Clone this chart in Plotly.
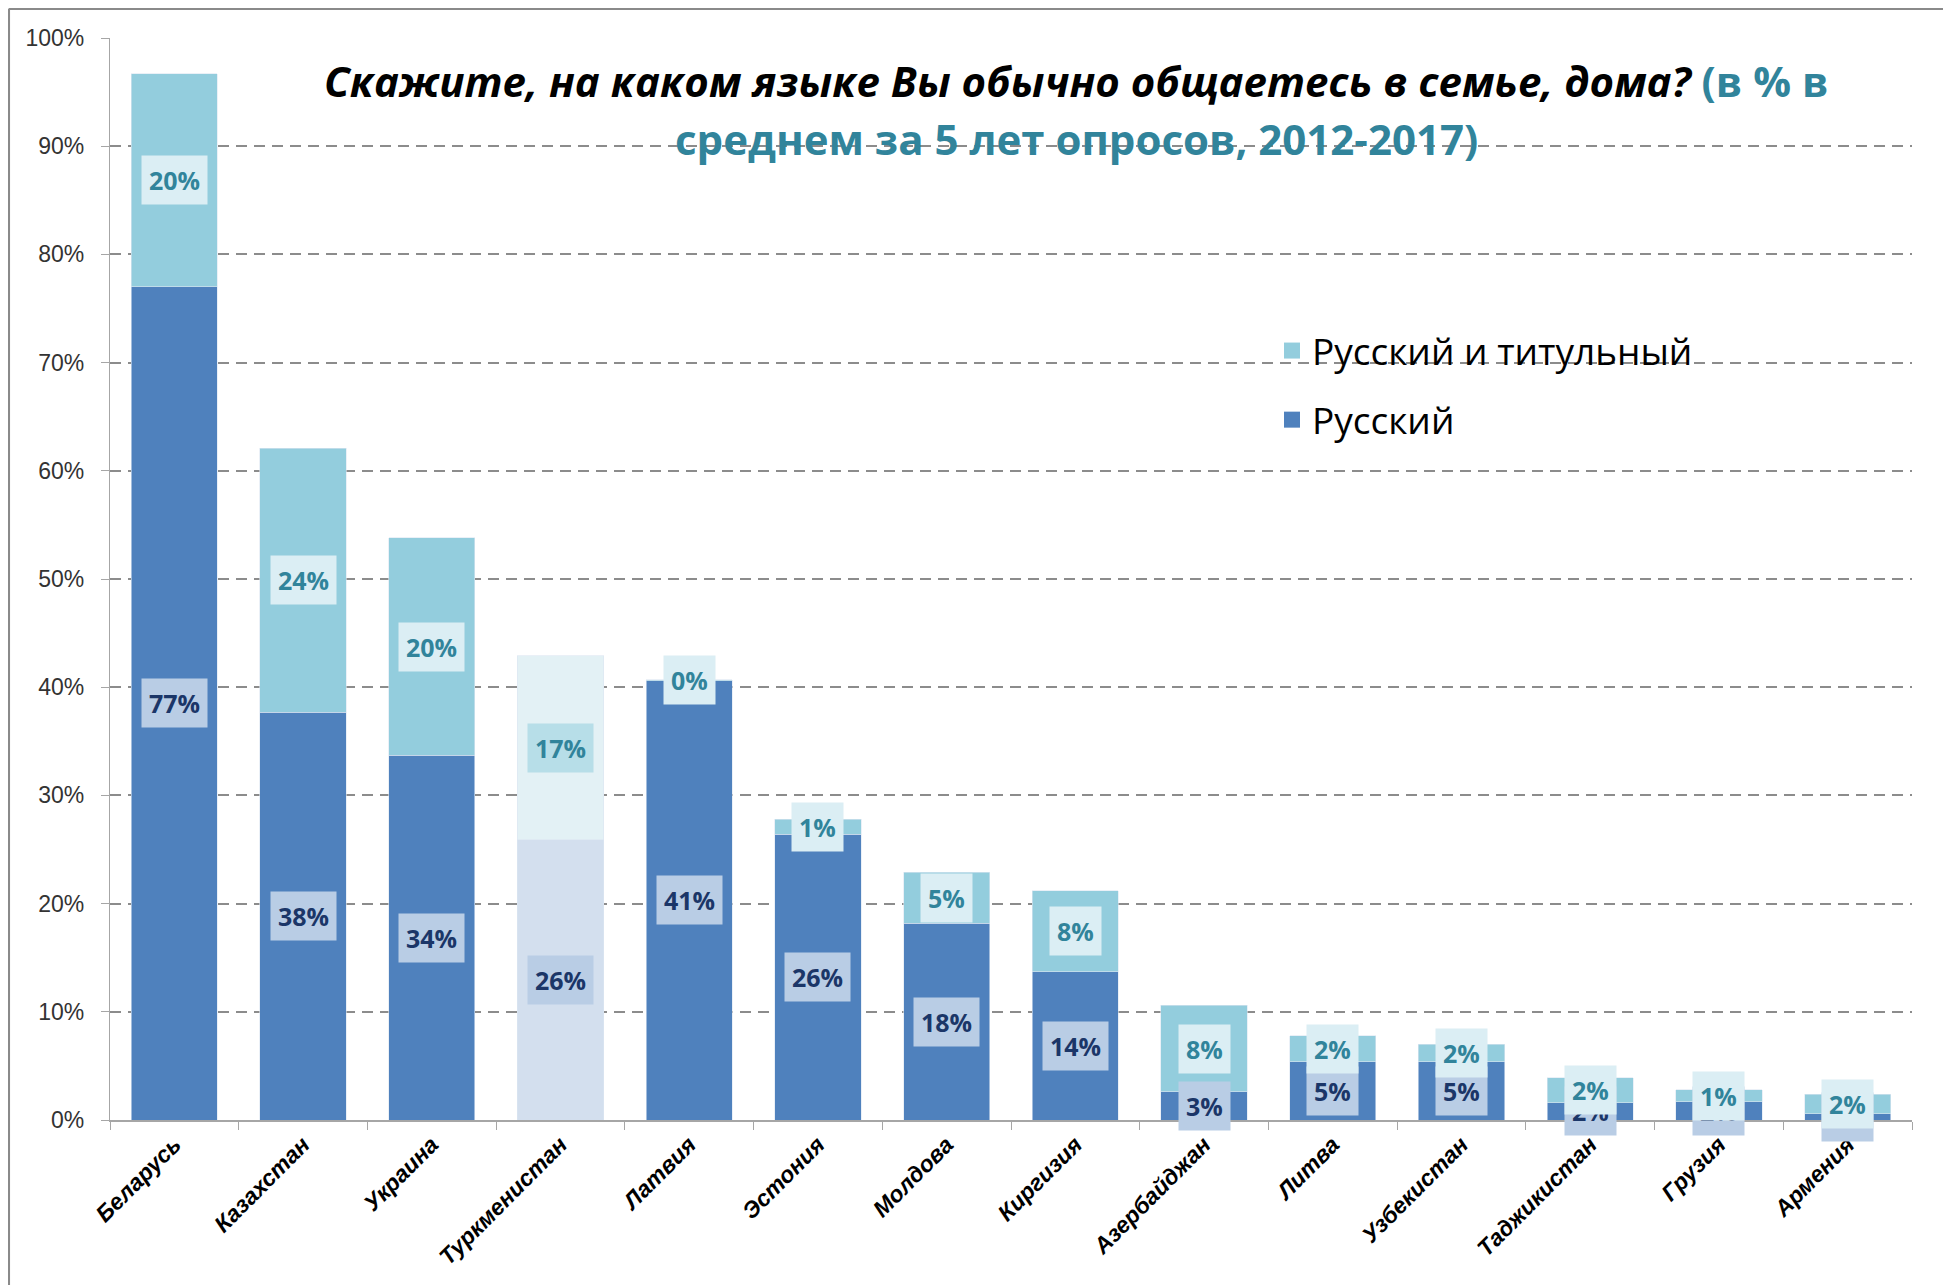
import plotly.graph_objects as go

countries = ["Беларусь", "Казахстан", "Украина", "Туркменистан", "Латвия", "Эстония",
             "Молдова", "Киргизия", "Азербайджан", "Литва", "Узбекистан", "Таджикистан",
             "Грузия", "Армения"]
russian = [77.0, 37.7, 33.7, 25.9, 40.6, 26.4, 18.2, 13.7, 2.6, 5.4, 5.4, 1.6, 1.7, 0.6]
titular = [19.7, 24.4, 20.1, 17.0, 0.1, 1.4, 4.7, 7.5, 8.0, 2.4, 1.6, 2.3, 1.1, 1.8]
series_names = ["Русский", "Русский и титульный"]
y_ticks = [0, 10, 20, 30, 40, 50, 60, 70, 80, 90, 100]
faded = "Туркменистан"

C_RUS = "#4F81BD"
C_TIT = "#93CDDD"
C_RUS_F = "#D3DFEE"
C_TIT_F = "#E3F1F5"

rus_colors = [C_RUS_F if c == faded else C_RUS for c in countries]
tit_colors = [C_TIT_F if c == faded else C_TIT for c in countries]

OFF = 8  # page offset of the figure div
W, H = 1951 - OFF, 1285 - OFF
L, R, T, B = 110 - OFF, 39, 38 - OFF, 165
pw, ph = W - L - R, H - T - B

fig = go.Figure()
fig.add_trace(go.Bar(x=countries, y=russian, name=series_names[0], showlegend=False,
                     marker=dict(color=rus_colors, line=dict(width=0.6, color="#DCE6F2"))))
fig.add_trace(go.Bar(x=countries, y=titular, name=series_names[1], showlegend=False,
                     marker=dict(color=tit_colors, line=dict(width=0.6, color="#DCE6F2"))))
# legend entries (square swatches)
fig.add_trace(go.Scatter(x=[None], y=[None], mode="markers", name=series_names[1],
                         legendgroup="b", legendrank=1,
                         marker=dict(symbol="square", size=20, color=C_TIT)))
fig.add_trace(go.Scatter(x=[None], y=[None], mode="markers", name=series_names[0],
                         legendgroup="a", legendrank=2,
                         marker=dict(symbol="square", size=20, color=C_RUS)))

def pct(v):
    return f"{int(v + 0.5)}%"

ann = []
for c, r in zip(countries, russian):
    ann.append(dict(x=c, y=r / 2, xref="x", yref="y", text=f"<b>{pct(r)}</b>", showarrow=False,
                    font=dict(family="Open Sans", size=25, color="#1B3668"),
                    bgcolor="#B9CDE5", borderpad=7))
for c, r, t in zip(countries, russian, titular):
    ann.append(dict(x=c, y=r + t / 2, xref="x", yref="y", text=f"<b>{pct(t)}</b>", showarrow=False,
                    font=dict(family="Open Sans", size=25, color="#31849B"),
                    bgcolor="#B7DEE8" if c == faded else "#DBEEF4", borderpad=7))

# convert page pixel positions into paper fractions
def px_x(x):
    return (x - OFF - L) / pw

def px_y(y):
    return (OFF + H - B - y) / ph

ann.append(dict(x=px_x(1076), y=px_y(80), xref="paper", yref="paper", showarrow=False,
                xanchor="center", yanchor="middle",
                text="<b><i>Скажите, на каком языке Вы обычно общаетесь в семье, дома?</i></b> "
                     "<b><span style='color:#31849B'>(в % в</span></b>",
                font=dict(family="Open Sans", size=42, color="black")))
ann.append(dict(x=px_x(1076), y=px_y(139), xref="paper", yref="paper", showarrow=False,
                xanchor="center", yanchor="middle",
                text="<b>среднем за 5 лет опросов, 2012-2017)</b>",
                font=dict(family="Open Sans", size=42, color="#31849B")))

shapes = [
    dict(type="line", xref="paper", yref="paper", x0=px_x(8.8), x1=px_x(8.8), y0=px_y(8.8), y1=px_y(1300),
         line=dict(color="#8A8A8A", width=2.5)),
    dict(type="line", xref="paper", yref="paper", x0=px_x(8.8), x1=px_x(1960), y0=px_y(8.8), y1=px_y(8.8),
         line=dict(color="#8A8A8A", width=2.5)),
]

fig.update_layout(
    width=W, height=H,
    margin=dict(l=L, r=R, t=T, b=B, autoexpand=False),
    barmode="stack", bargap=0.33,
    plot_bgcolor="white", paper_bgcolor="white",
    font=dict(family="Liberation Sans", color="#222222"),
    legend=dict(x=px_x(1272), y=px_y(320), xanchor="left", yanchor="top",
                traceorder="grouped", tracegroupgap=18, itemsizing="trace",
                font=dict(family="Open Sans", size=37, color="black"),
                bgcolor="rgba(0,0,0,0)"),
    annotations=ann,
    shapes=shapes,
)
fig.update_yaxes(range=[0, 100], tickvals=y_ticks, ticktext=[f"{v}%" for v in y_ticks],
                 showgrid=True, gridcolor="#8C8C8C", gridwidth=2.2, griddash="11px,7px",
                 showline=True, linecolor="#A6A6A6", linewidth=1.2,
                 ticks="outside", ticklen=8, tickcolor="#A6A6A6", ticklabelstandoff=12,
                 tickfont=dict(family="Liberation Sans Narrow, Liberation Sans", size=23, color="#333333"),
                 zeroline=False)
fig.update_xaxes(showline=True, linecolor="#A6A6A6", linewidth=2,
                 ticks="outside", ticklen=8, tickcolor="#A6A6A6", tickson="boundaries",
                 tickangle=-45,
                 tickfont=dict(family="Liberation Sans", size=23, color="black",
                               weight="bold", style="italic"),
                 showgrid=False)

fig.write_html("out.html")
